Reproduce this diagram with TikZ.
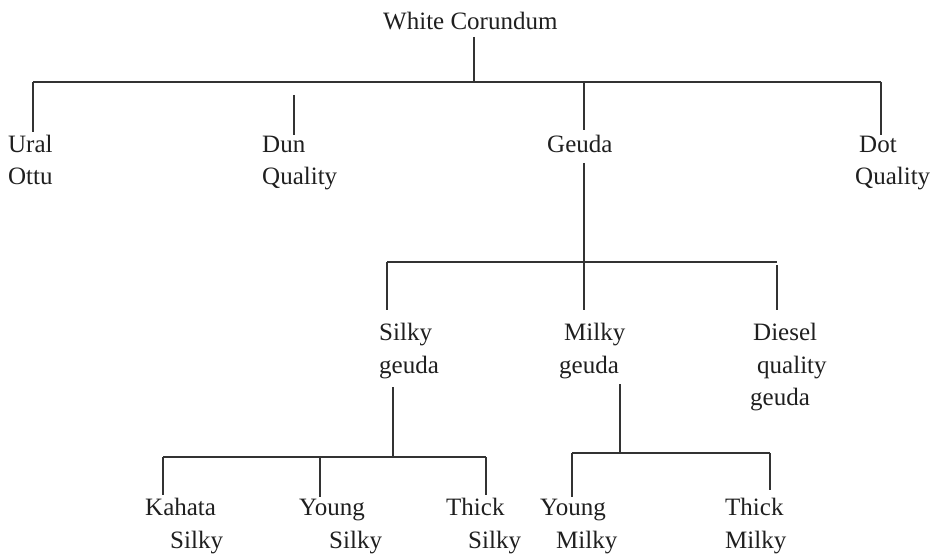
\documentclass[tikz,border=0pt]{standalone}
\usepackage{fontspec}
\setmainfont{Liberation Serif}
\begin{document}
\begin{tikzpicture}[x=1pt,y=-1pt,
  lbl/.style={anchor=base west, inner sep=0pt, font=\fontsize{25}{30}\selectfont, text=black!88},
  conn/.style={line width=1.7pt, draw=black!80, line cap=butt}]
\useasboundingbox (0,0) rectangle (944,556);
% labels
\node[lbl] (root) at (383,30) {White Corundum};
\node[lbl] (ural1) at (8,153) {Ural};
\node[lbl] (ural2) at (8,185) {Ottu};
\node[lbl] (dun1) at (262,153) {Dun};
\node[lbl] (dun2) at (262,185) {Quality};
\node[lbl] (geuda) at (547,153) {Geuda};
\node[lbl] (dot1) at (859,153) {Dot};
\node[lbl] (dot2) at (855,185) {Quality};
\node[lbl] (silky1) at (379,340) {Silky};
\node[lbl] (silky2) at (379,373) {geuda};
\node[lbl] (milky1) at (564,340) {Milky};
\node[lbl] (milky2) at (559,373) {geuda};
\node[lbl] (diesel1) at (753,340) {Diesel};
\node[lbl] (diesel2) at (757,373) {quality};
\node[lbl] (diesel3) at (750,405) {geuda};
\node[lbl] (ks1) at (145,515) {Kahata};
\node[lbl] (ks2) at (170,548) {Silky};
\node[lbl] (ys1) at (299,515) {Young};
\node[lbl] (ys2) at (329,548) {Silky};
\node[lbl] (ts1) at (446,515) {Thick};
\node[lbl] (ts2) at (468,548) {Silky};
\node[lbl] (ym1) at (540,515) {Young};
\node[lbl] (ym2) at (556,548) {Milky};
\node[lbl] (tm1) at (725,515) {Thick};
\node[lbl] (tm2) at (725,548) {Milky};
% junction coordinates
\coordinate (rtop) at (474,37);
\coordinate (rbar) at (474,82);
\coordinate (barL) at (33,82);
\coordinate (barR) at (881,82);
\coordinate (uralE) at (33,132);
\coordinate (dunS) at (294,95);
\coordinate (dunE) at (294,135);
\coordinate (geuB) at (584,82);
\coordinate (geuE) at (584,130);
\coordinate (dotE) at (881,135);
\coordinate (geuS) at (584,163);
\coordinate (milkyE) at (584,310);
\coordinate (bar2L) at (387,262);
\coordinate (bar2R) at (777,262);
\coordinate (silkyE) at (387,310);
\coordinate (dieselS) at (777,265);
\coordinate (dieselE) at (777,310);
\coordinate (silS) at (393,387);
\coordinate (silB) at (393,457);
\coordinate (bar3L) at (163,457);
\coordinate (bar3R) at (486,457);
\coordinate (ksE) at (163,495);
\coordinate (ysB) at (320,457);
\coordinate (ysE) at (320,497);
\coordinate (tsE) at (486,495);
\coordinate (milS) at (620,384);
\coordinate (milB) at (620,453);
\coordinate (bar4L) at (572,453);
\coordinate (bar4R) at (770,453);
\coordinate (ymE) at (572,497);
\coordinate (tmE) at (770,490);
% connectors
\draw[conn] (rtop) -- (rbar);
\draw[conn] (barL) -- (barR);
\draw[conn] (barL) -- (uralE);
\draw[conn] (dunS) -- (dunE);
\draw[conn] (geuB) -- (geuE);
\draw[conn] (barR) -- (dotE);
\draw[conn] (geuS) -- (milkyE);
\draw[conn] (bar2L) -- (bar2R);
\draw[conn] (bar2L) -- (silkyE);
\draw[conn] (dieselS) -- (dieselE);
\draw[conn] (silS) -- (silB);
\draw[conn] (bar3L) -- (bar3R);
\draw[conn] (bar3L) -- (ksE);
\draw[conn] (ysB) -- (ysE);
\draw[conn] (bar3R) -- (tsE);
\draw[conn] (milS) -- (milB);
\draw[conn] (bar4L) -- (bar4R);
\draw[conn] (bar4L) -- (ymE);
\draw[conn] (bar4R) -- (tmE);
\end{tikzpicture}
\end{document}
